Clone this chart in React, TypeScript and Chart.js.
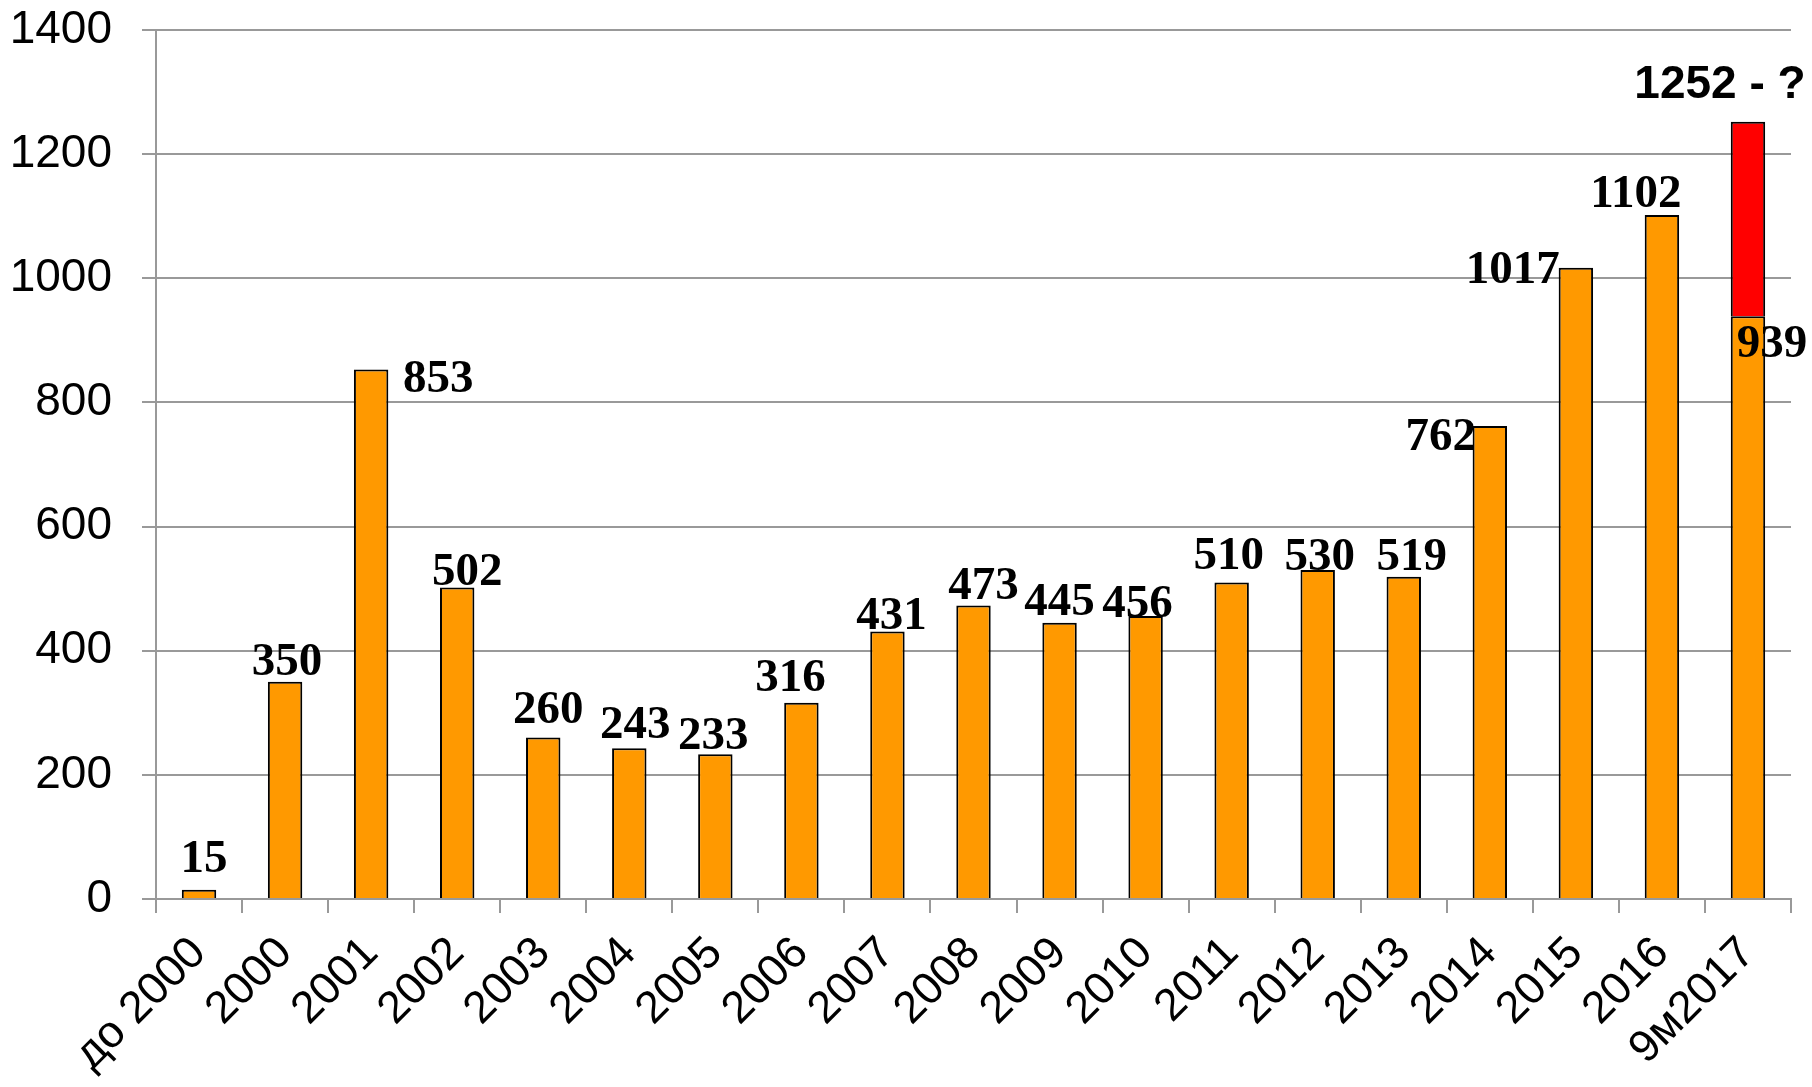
import React, { useEffect, useRef } from 'react';
import { Chart, registerables } from 'chart.js';

Chart.register(...registerables);

// ---- data ----
const categories = [
  'до 2000', '2000', '2001', '2002', '2003', '2004', '2005', '2006', '2007', '2008',
  '2009', '2010', '2011', '2012', '2013', '2014', '2015', '2016', '9м2017',
];
const values = [15, 350, 853, 502, 260, 243, 233, 316, 431, 473, 445, 456, 510, 530, 519, 762, 1017, 1102, 939];
const forecastTotal = 1252;
const forecastText = '1252 - ?';
const yMin = 0;
const yMax = 1400;
const yStep = 200;

// ---- label placement (pixel shifts of the value labels relative to bar tops) ----
const labelDx = [5, 2, 67, 10, 5, 6, -2, -11, 4, 10, 0, -8, -3, 2, 8, -49, -63, -26, 24];
const labelDy = [-18, -7, 22, -2, -15, -10, -5, -12, -2, -6, -8, 1, -13, 0, -7, 24, 15, -8, 41];
const forecastDx = -28;
const forecastDy = -24;

const ORANGE = '#FF9900';
const RED = '#FF0000';
const GRID = '#999999';

const lastIndex = values.length - 1;
const extraValues = values.map((v, i) => (i === lastIndex ? forecastTotal - v : null));

const valueLabelsPlugin = {
  id: 'valueLabels',
  afterDatasetsDraw(chart: any) {
    const ctx = chart.ctx;
    const meta0 = chart.getDatasetMeta(0);
    const meta1 = chart.getDatasetMeta(1);
    ctx.save();
    ctx.fillStyle = '#000';
    ctx.textAlign = 'center';
    ctx.textBaseline = 'alphabetic';
    ctx.font = 'bold 47px "Liberation Serif", "Times New Roman", serif';
    meta0.data.forEach((el: any, i: number) => {
      ctx.fillText(String(values[i]), el.x + labelDx[i], el.y + labelDy[i]);
    });
    const top = meta1.data[lastIndex];
    if (top) {
      ctx.font = 'bold 46px "Liberation Sans", Arial, sans-serif';
      ctx.fillText(forecastText, top.x + forecastDx, top.y + forecastDy);
    }
    ctx.restore();
  },
};

export default function App() {
  const canvasRef = useRef<HTMLCanvasElement | null>(null);

  useEffect(() => {
    if (!canvasRef.current) return;
    const chart = new Chart(canvasRef.current, {
      type: 'bar',
      data: {
        labels: categories,
        datasets: [
          {
            data: values,
            backgroundColor: ORANGE,
            borderColor: '#000000',
            borderWidth: 2,
            barPercentage: 0.4,
            categoryPercentage: 1,
          },
          {
            data: extraValues,
            backgroundColor: RED,
            borderColor: '#000000',
            borderWidth: 2,
            barPercentage: 0.4,
            categoryPercentage: 1,
          },
        ],
      },
      options: {
        animation: false,
        responsive: true,
        maintainAspectRatio: false,
        layout: { padding: { top: 30, right: 21, left: 0, bottom: 0 } },
        plugins: {
          legend: { display: false },
          tooltip: { enabled: false },
          title: { display: false },
        },
        scales: {
          x: {
            stacked: true,
            grid: {
              display: true,
              drawOnChartArea: false,
              drawTicks: true,
              tickLength: 14,
              color: GRID,
              lineWidth: 2,
              offset: true,
            },
            border: { display: true, color: GRID, width: 2 },
            ticks: {
              autoSkip: false,
              maxRotation: 45,
              minRotation: 45,
              padding: 14,
              color: '#000',
              font: { family: '"Liberation Sans", Arial, sans-serif', size: 45 },
            },
            afterFit(scale: any) {
              scale.height = 188;
              scale.paddingLeft = 0;
              scale.paddingRight = 0;
            },
          },
          y: {
            stacked: true,
            min: yMin,
            max: yMax,
            grid: {
              color: GRID,
              lineWidth: 2,
              tickLength: 14,
              drawTicks: true,
            },
            border: { display: true, color: GRID, width: 2 },
            ticks: {
              stepSize: yStep,
              padding: 30,
              color: '#000',
              font: { family: '"Liberation Sans", Arial, sans-serif', size: 46 },
              callback: (v: any) => String(v),
            },
            afterFit(scale: any) {
              scale.width = 156;
              scale.paddingTop = 0;
              scale.paddingBottom = 0;
            },
          },
        },
      },
      plugins: [valueLabelsPlugin],
    });
    return () => chart.destroy();
  }, []);

  return (
    <div style={{ position: 'absolute', left: 0, top: 0, width: 1812, height: 1087, background: '#fff' }}>
      <canvas ref={canvasRef} />
    </div>
  );
}
